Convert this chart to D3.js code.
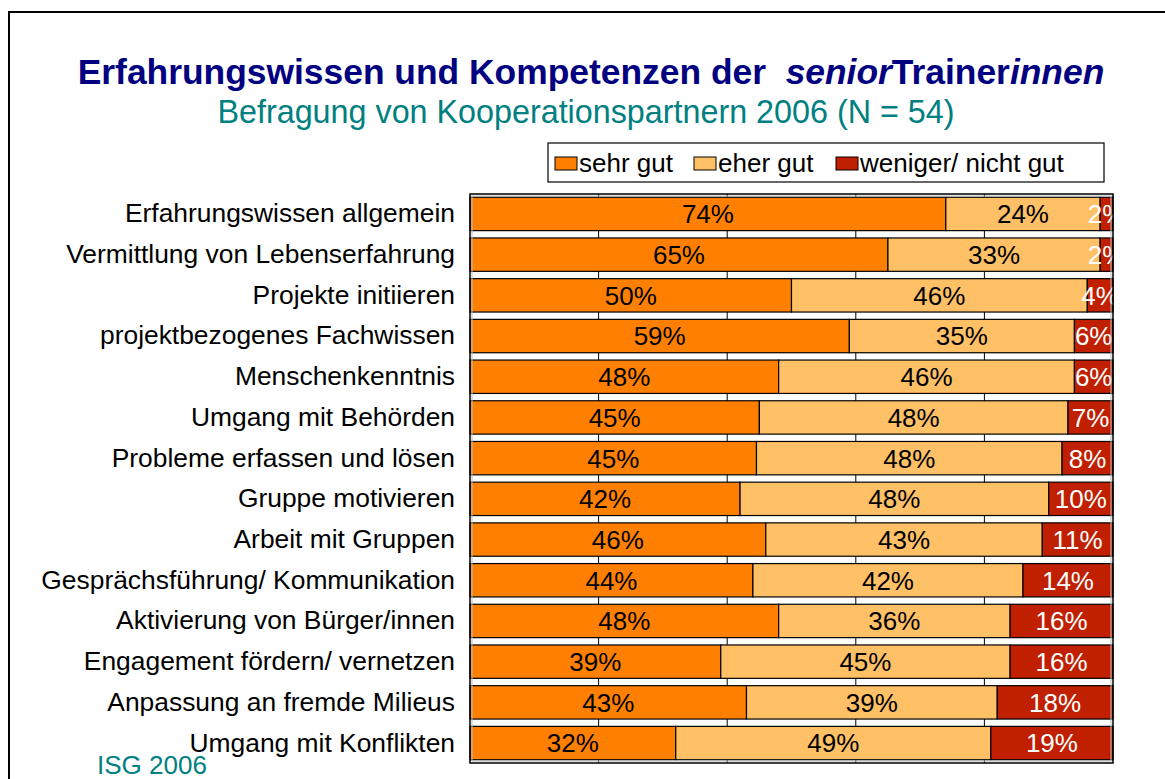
<!DOCTYPE html>
<html>
<head>
<meta charset="utf-8">
<script src="https://cdn.jsdelivr.net/npm/d3@7"></script>
<style>
  html, body { margin: 0; padding: 0; background: #fff; }
  svg { display: block; font-family: Arial, "Liberation Sans", sans-serif; }
</style>
</head>
<body>
<svg id="chart" width="1165" height="779"></svg>
<script>
// Survey categories, top to bottom
const categories = [
  "Erfahrungswissen allgemein",
  "Vermittlung von Lebenserfahrung",
  "Projekte initiieren",
  "projektbezogenes Fachwissen",
  "Menschenkenntnis",
  "Umgang mit Behörden",
  "Probleme erfassen und lösen",
  "Gruppe motivieren",
  "Arbeit mit Gruppen",
  "Gesprächsführung/ Kommunikation",
  "Aktivierung von Bürger/innen",
  "Engagement fördern/ vernetzen",
  "Anpassung an fremde Milieus",
  "Umgang mit Konflikten"
];

// Shares in percent per rating
const sehrGut   = [74, 65, 50, 59, 48, 45, 45, 42, 46, 44, 48, 39, 43, 32];
const eherGut   = [24, 33, 46, 35, 46, 48, 48, 48, 43, 42, 36, 45, 39, 49];
const weniger   = [ 2,  2,  4,  6,  6,  7,  8, 10, 11, 14, 16, 16, 18, 19];

const seriesKeys   = ["sehrGut", "eherGut", "weniger"];
const seriesNames  = ["sehr gut", "eher gut", "weniger/ nicht gut"];
const seriesColors = ["#FF8000", "#FFC066", "#C01F00"];
const labelColors  = ["#000", "#000", "#fff"];
const gridTicks    = [0.2, 0.4, 0.6, 0.8];

const rows = categories.map((c, i) => ({
  category: c, sehrGut: sehrGut[i], eherGut: eherGut[i], weniger: weniger[i]
}));

const svg = d3.select("#chart");

// slide frame
svg.append("rect")
  .attr("x", 9).attr("y", 12).attr("width", 1200).attr("height", 800)
  .attr("fill", "none").attr("stroke", "#000").attr("stroke-width", 2);

// titles
const title = svg.append("text")
  .attr("x", 591).attr("y", 84)
  .attr("text-anchor", "middle")
  .attr("fill", "#000080")
  .attr("font-weight", "bold")
  .attr("font-size", 35.4);
title.append("tspan").text("Erfahrungswissen und Kompetenzen der\u00a0\u00a0");
title.append("tspan").attr("font-style", "italic").text("senior");
title.append("tspan").text("Trainer");
title.append("tspan").attr("font-style", "italic").text("innen");

svg.append("text")
  .attr("x", 586).attr("y", 123)
  .attr("text-anchor", "middle")
  .attr("fill", "#008080")
  .attr("font-size", 32.3)
  .text("Befragung von Kooperationspartnern 2006 (N = 54)");

// plot geometry
const plot = { left: 470, right: 1113, top: 194, bottom: 763 };

const x = d3.scaleLinear().domain([0, 1]).range([plot.left, plot.right]);
const y = d3.scaleBand().domain(categories)
  .range([plot.top, plot.bottom])
  .paddingInner(0.18).paddingOuter(0.08);

const stack = d3.stack().keys(seriesKeys).offset(d3.stackOffsetExpand);
const stacked = stack(rows);

// plot background and grid
svg.append("rect")
  .attr("x", plot.left).attr("y", plot.top)
  .attr("width", plot.right - plot.left).attr("height", plot.bottom - plot.top)
  .attr("fill", "#fff");

svg.append("g")
  .selectAll("line").data(gridTicks).join("line")
  .attr("x1", d => x(d)).attr("x2", d => x(d))
  .attr("y1", plot.top).attr("y2", plot.bottom)
  .attr("stroke", "#000").attr("stroke-width", 1);

// bars
const layers = svg.append("g").selectAll("g").data(stacked).join("g")
  .attr("fill", (d, i) => seriesColors[i]);

layers.selectAll("rect").data(d => d).join("rect")
  .attr("x", d => x(d[0]))
  .attr("width", d => x(d[1]) - x(d[0]))
  .attr("y", d => y(d.data.category))
  .attr("height", y.bandwidth())
  .attr("stroke", "#000").attr("stroke-width", 1.2);

// value labels, clipped to the plot area
svg.append("clipPath").attr("id", "plotClip")
  .append("rect")
  .attr("x", plot.left).attr("y", plot.top)
  .attr("width", plot.right - plot.left).attr("height", plot.bottom - plot.top);

const labelGroup = svg.append("g").attr("clip-path", "url(#plotClip)")
  .attr("font-size", 26);

stacked.forEach((layer, i) => {
  labelGroup.append("g").selectAll("text").data(layer).join("text")
    .attr("x", d => (x(d[0]) + x(d[1])) / 2)
    .attr("y", d => y(d.data.category) + y.bandwidth() / 2)
    .attr("dy", "0.36em")
    .attr("text-anchor", "middle")
    .attr("fill", labelColors[i])
    .text(d => d.data[layer.key] + "%");
});

// plot frame
svg.append("rect")
  .attr("x", plot.left + 2).attr("y", plot.top + 2)
  .attr("width", plot.right - plot.left - 4).attr("height", plot.bottom - plot.top - 4)
  .attr("fill", "none").attr("stroke", "#bbb").attr("stroke-width", 1);
svg.append("rect")
  .attr("x", plot.left).attr("y", plot.top)
  .attr("width", plot.right - plot.left).attr("height", plot.bottom - plot.top)
  .attr("fill", "none").attr("stroke", "#000").attr("stroke-width", 1.5);

// category axis (labels only)
const yAxis = d3.axisLeft(y).tickSize(0).tickPadding(15);
const axisG = svg.append("g").attr("transform", `translate(${plot.left},0)`).call(yAxis);
axisG.select(".domain").remove();
axisG.selectAll("text")
  .attr("font-size", 26.4)
  .attr("font-family", "Arial, 'Liberation Sans', sans-serif")
  .attr("fill", "#000");

// legend
const legend = svg.append("g");
legend.append("rect")
  .attr("x", 548).attr("y", 143).attr("width", 556).attr("height", 39)
  .attr("fill", "#fff").attr("stroke", "#000").attr("stroke-width", 1.2);
const legendX = [555, 694, 836];
seriesNames.forEach((name, i) => {
  legend.append("rect")
    .attr("x", legendX[i]).attr("y", 157).attr("width", 22).attr("height", 13)
    .attr("fill", seriesColors[i]).attr("stroke", "#000").attr("stroke-width", 1);
  legend.append("text")
    .attr("x", legendX[i] + 24).attr("y", 172)
    .attr("font-size", 26).attr("fill", "#000")
    .text(name);
});

// source note
svg.append("text")
  .attr("x", 97).attr("y", 774)
  .attr("fill", "#008080").attr("font-size", 26)
  .text("ISG 2006");
</script>
</body>
</html>
